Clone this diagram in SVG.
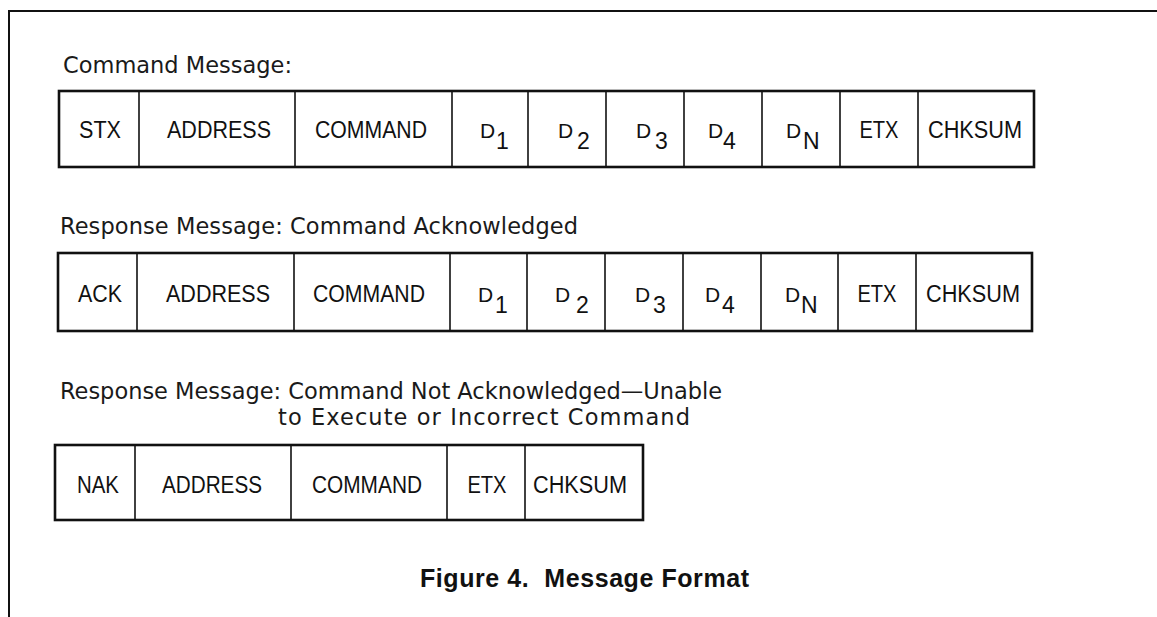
<svg xmlns="http://www.w3.org/2000/svg" width="1157" height="617" viewBox="0 0 1157 617">
<style>
.frame{fill:none;stroke:#111;stroke-width:2}
.box{fill:#fff;stroke:#111;stroke-width:2.6}
.dv{stroke:#111;stroke-width:1.6}
.t{font-family:"Liberation Sans",Arial,sans-serif;font-size:23px;fill:#111;text-anchor:middle}
.d{font-family:"Liberation Sans",Arial,sans-serif;font-size:21px;fill:#111}
.s{font-family:"Liberation Sans",Arial,sans-serif;font-size:23px;fill:#111}
.lbl{font-family:"DejaVu Sans","Liberation Sans",sans-serif;font-size:22.5px;fill:#1a1a1a}
.cap{font-family:"Liberation Sans",Arial,sans-serif;font-weight:bold;font-size:25px;fill:#111}
</style>
<rect width="1157" height="617" fill="#fff"/>
<path class="frame" d="M9 617 V11 H1157"/>

<g id="label-command">
<text class="lbl" x="63" y="73" textLength="229" lengthAdjust="spacing">Command Message:</text>
</g>
<g id="row-command">
<rect class="box" x="59" y="91" width="975" height="76"/>
<g class="dividers">
<line class="dv" x1="139" y1="91" x2="139" y2="167"/>
<line class="dv" x1="295" y1="91" x2="295" y2="167"/>
<line class="dv" x1="452" y1="91" x2="452" y2="167"/>
<line class="dv" x1="528" y1="91" x2="528" y2="167"/>
<line class="dv" x1="606" y1="91" x2="606" y2="167"/>
<line class="dv" x1="684" y1="91" x2="684" y2="167"/>
<line class="dv" x1="762" y1="91" x2="762" y2="167"/>
<line class="dv" x1="840" y1="91" x2="840" y2="167"/>
<line class="dv" x1="918" y1="91" x2="918" y2="167"/>
</g>
<g id="c1-stx"><text class="t" x="100" y="138" textLength="42" lengthAdjust="spacingAndGlyphs">STX</text></g>
<g id="c1-address"><text class="t" x="219" y="138" textLength="104" lengthAdjust="spacingAndGlyphs">ADDRESS</text></g>
<g id="c1-command"><text class="t" x="371" y="138" textLength="112" lengthAdjust="spacingAndGlyphs">COMMAND</text></g>
<g id="c1-d1"><text class="d" x="480" y="138">D</text><text class="s" x="496" y="149">1</text></g>
<g id="c1-d2"><text class="d" x="558" y="138">D</text><text class="s" x="577" y="149">2</text></g>
<g id="c1-d3"><text class="d" x="636" y="138">D</text><text class="s" x="655" y="149">3</text></g>
<g id="c1-d4"><text class="d" x="708" y="138">D</text><text class="s" x="723" y="149">4</text></g>
<g id="c1-dn"><text class="d" x="786" y="138">D</text><text class="s" x="803" y="149">N</text></g>
<g id="c1-etx"><text class="t" x="879" y="138" textLength="39" lengthAdjust="spacingAndGlyphs">ETX</text></g>
<g id="c1-chksum"><text class="t" x="975" y="138" textLength="94" lengthAdjust="spacingAndGlyphs">CHKSUM</text></g>
</g>

<g id="label-ack">
<text class="lbl" x="60" y="234" textLength="518" lengthAdjust="spacing">Response Message: Command Acknowledged</text>
</g>
<g id="row-ack">
<rect class="box" x="58" y="253" width="974" height="78"/>
<g class="dividers">
<line class="dv" x1="137" y1="253" x2="137" y2="331"/>
<line class="dv" x1="294" y1="253" x2="294" y2="331"/>
<line class="dv" x1="450" y1="253" x2="450" y2="331"/>
<line class="dv" x1="527" y1="253" x2="527" y2="331"/>
<line class="dv" x1="605" y1="253" x2="605" y2="331"/>
<line class="dv" x1="683" y1="253" x2="683" y2="331"/>
<line class="dv" x1="761" y1="253" x2="761" y2="331"/>
<line class="dv" x1="838" y1="253" x2="838" y2="331"/>
<line class="dv" x1="916" y1="253" x2="916" y2="331"/>
</g>
<g id="c2-ack"><text class="t" x="100" y="302" textLength="44" lengthAdjust="spacingAndGlyphs">ACK</text></g>
<g id="c2-address"><text class="t" x="218" y="302" textLength="104" lengthAdjust="spacingAndGlyphs">ADDRESS</text></g>
<g id="c2-command"><text class="t" x="369" y="302" textLength="112" lengthAdjust="spacingAndGlyphs">COMMAND</text></g>
<g id="c2-d1"><text class="d" x="478" y="302">D</text><text class="s" x="495" y="313">1</text></g>
<g id="c2-d2"><text class="d" x="555" y="302">D</text><text class="s" x="576" y="313">2</text></g>
<g id="c2-d3"><text class="d" x="635" y="302">D</text><text class="s" x="653" y="313">3</text></g>
<g id="c2-d4"><text class="d" x="705" y="302">D</text><text class="s" x="722" y="313">4</text></g>
<g id="c2-dn"><text class="d" x="785" y="302">D</text><text class="s" x="801" y="313">N</text></g>
<g id="c2-etx"><text class="t" x="877" y="302" textLength="39" lengthAdjust="spacingAndGlyphs">ETX</text></g>
<g id="c2-chksum"><text class="t" x="973" y="302" textLength="94" lengthAdjust="spacingAndGlyphs">CHKSUM</text></g>
</g>

<g id="label-nak">
<text class="lbl" x="60" y="399" textLength="662" lengthAdjust="spacing">Response Message: Command Not Acknowledged—Unable</text>
<text class="lbl" x="278" y="425" textLength="412" lengthAdjust="spacing">to Execute or Incorrect Command</text>
</g>
<g id="row-nak">
<rect class="box" x="55" y="445" width="588" height="75"/>
<g class="dividers">
<line class="dv" x1="135" y1="445" x2="135" y2="520"/>
<line class="dv" x1="291" y1="445" x2="291" y2="520"/>
<line class="dv" x1="447" y1="445" x2="447" y2="520"/>
<line class="dv" x1="525" y1="445" x2="525" y2="520"/>
</g>
<g id="c3-nak"><text class="t" x="98" y="493" textLength="42" lengthAdjust="spacingAndGlyphs">NAK</text></g>
<g id="c3-address"><text class="t" x="212" y="493" textLength="100" lengthAdjust="spacingAndGlyphs">ADDRESS</text></g>
<g id="c3-command"><text class="t" x="367" y="493" textLength="110" lengthAdjust="spacingAndGlyphs">COMMAND</text></g>
<g id="c3-etx"><text class="t" x="487" y="493" textLength="39" lengthAdjust="spacingAndGlyphs">ETX</text></g>
<g id="c3-chksum"><text class="t" x="580" y="493" textLength="94" lengthAdjust="spacingAndGlyphs">CHKSUM</text></g>
</g>

<g id="connectors"/>

<g id="caption">
<text class="cap" x="420" y="587" xml:space="preserve" textLength="329" lengthAdjust="spacing">Figure 4.  Message Format</text>
</g>
</svg>
